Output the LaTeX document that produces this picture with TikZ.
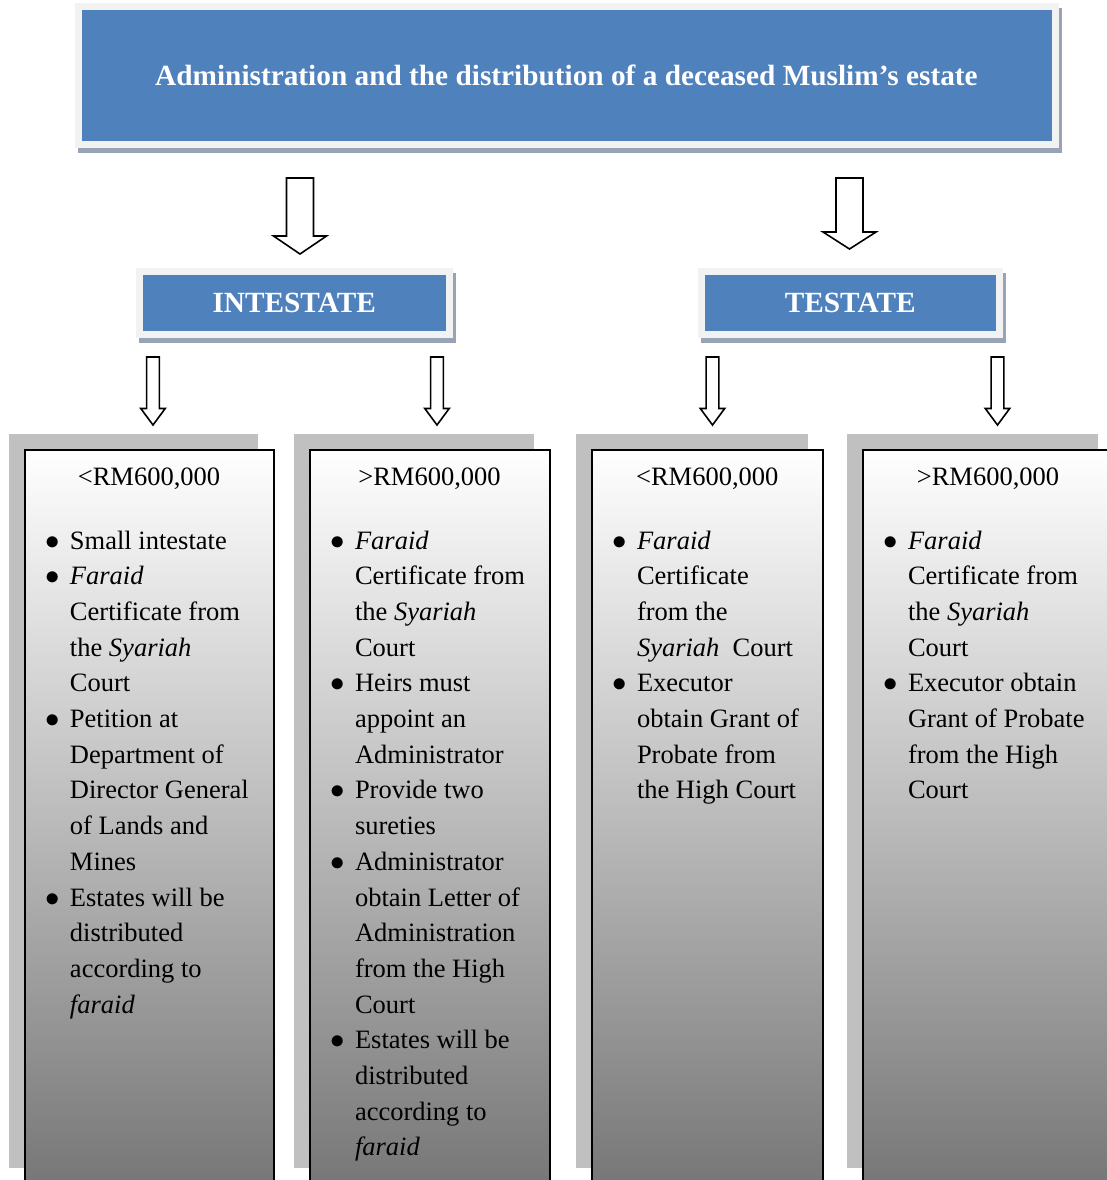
\documentclass[tikz,border=0pt]{standalone}
\usepackage{fontspec}
\setmainfont{Liberation Serif}
\usetikzlibrary{calc}

\definecolor{headblue}{HTML}{4F81BD}
\definecolor{headframe}{HTML}{F2F2F2}
\definecolor{headshade}{HTML}{98A4B6}
\definecolor{colshade}{HTML}{C0C0C0}
\definecolor{colbottom}{HTML}{777777}

\newlength\BulPos \setlength\BulPos{10.45pt}
\newlength\BulIndent \setlength\BulIndent{22.75pt}
\newcommand\BoxFont{\fontsize{13.25pt}{17.85pt}\selectfont}
\newcommand\HeadFont{\fontsize{14.65pt}{17pt}\selectfont\bfseries}
\newcommand\Bul{\par\hangindent=\BulIndent\hangafter=1\noindent
    \makebox[\BulIndent][l]{\hspace{\BulPos}$\bullet$}\ignorespaces}
\newcommand\ColText[3]{%
    \begin{minipage}[t][367pt][t]{#1}\BoxFont
        {\centering\rule{0pt}{17.5pt}#2\par}
        \vspace{14.15pt}
        \raggedright #3
    \end{minipage}}
% x coordinate, upper node, lower node, top gap, tip gap, shaft, head, head length
\newcommand\BlockArrow[8]{%
    \draw[hollowarrow] let \p1=(#1 |- #2.south), \p2=(#1 |- #3.north) in
        (\x1-#6,\y1-#4) -- (\x1+#6,\y1-#4) -- (\x1+#6,\y2+#5+#8) -- (\x1+#7,\y2+#5+#8)
        -- (\x1,\y2+#5) -- (\x1-#7,\y2+#5+#8) -- (\x1-#6,\y2+#5+#8) -- cycle;
}

\tikzset{
    headbox/.style={fill=headblue, draw=headframe, line width=3.5pt, text=white, font=\HeadFont,
        preaction={fill=headshade, draw=headshade, line width=3.5pt,
            transform canvas={shift={(1.5pt,-2.5pt)}}}},
    colbox/.style={draw=black, line width=1pt, top color=white, bottom color=colbottom,
        inner sep=0pt, outer sep=0pt, anchor=north west,
        preaction={fill=colshade, transform canvas={shift={(-7.75pt,8pt)}}}},
    hollowarrow/.style={draw=black, fill=white, line width=0.8pt, line join=miter},
}

\begin{document}
\begin{tikzpicture}[x=0.5pt,y=-0.5pt]
    \path[use as bounding box, clip] (0,0) rectangle (1107,1180);

    \node[headbox, minimum width=488.5pt, minimum height=69pt] (title) at (566.5,75.5)
        {Administration and the distribution of a deceased Muslim’s estate};

    \begin{scope} % intestate
        \node[headbox, minimum width=154.75pt, minimum height=31.75pt] (intestate) at (294.25,302.75) {INTESTATE};
        \node[colbox] (smallInt) at (24.5,450) {\ColText{124.5pt}{<RM600,000}{%
            \Bul Small intestate
            \Bul \textit{Faraid}\newline Certificate from\newline the \textit{Syariah}\newline Court
            \Bul Petition at\newline Department of\newline Director General\newline of Lands and\newline Mines
            \Bul Estates will be\newline distributed\newline according to\newline \textit{faraid}}};
        \node[colbox] (largeInt) at (309.5,450) {\ColText{120pt}{>RM600,000}{%
            \Bul \textit{Faraid}\newline Certificate from\newline the \textit{Syariah}\newline Court
            \Bul Heirs must\newline appoint an\newline Administrator
            \Bul Provide two\newline sureties
            \Bul Administrator\newline obtain Letter of\newline Administration\newline from the High\newline Court
            \Bul Estates will be\newline distributed\newline according to\newline \textit{faraid}}};
        \coordinate (arrIntestate) at (300,0);
        \coordinate (arrSmallInt) at (153,0);
        \coordinate (arrLargeInt) at (437,0);
        \BlockArrow{arrIntestate}{title}{intestate}{15pt}{6.75pt}{6.75pt}{13.25pt}{9pt}
        \BlockArrow{arrSmallInt}{intestate}{smallInt}{9.5pt}{12.5pt}{3.2pt}{6.1pt}{8.25pt}
        \BlockArrow{arrLargeInt}{intestate}{largeInt}{9.5pt}{12.5pt}{3.2pt}{6.1pt}{8.25pt}
    \end{scope}

    \begin{scope} % testate
        \node[headbox, minimum width=148.75pt, minimum height=31.75pt] (testate) at (850.25,302.75) {TESTATE};
        \node[colbox] (smallTes) at (591.5,450) {\ColText{115.75pt}{<RM600,000}{%
            \Bul \textit{Faraid}\newline Certificate\newline from the\newline \textit{Syariah}\ \ Court
            \Bul Executor\newline obtain Grant of\newline Probate from\newline the High Court}};
        \node[colbox] (largeTes) at (862.5,450) {\ColText{125.5pt}{>RM600,000}{%
            \Bul \textit{Faraid}\newline Certificate from\newline the \textit{Syariah}\newline Court
            \Bul Executor obtain\newline Grant of Probate\newline from the High\newline Court}};
        \coordinate (arrTestate) at (849.5,0);
        \coordinate (arrSmallTes) at (712.5,0);
        \coordinate (arrLargeTes) at (997.5,0);
        \BlockArrow{arrTestate}{title}{testate}{15pt}{9.25pt}{6.75pt}{13.25pt}{8.5pt}
        \BlockArrow{arrSmallTes}{testate}{smallTes}{9.5pt}{12.5pt}{3.2pt}{6.1pt}{8.25pt}
        \BlockArrow{arrLargeTes}{testate}{largeTes}{9.5pt}{12.5pt}{3.2pt}{6.1pt}{8.25pt}
    \end{scope}
\end{tikzpicture}
\end{document}
